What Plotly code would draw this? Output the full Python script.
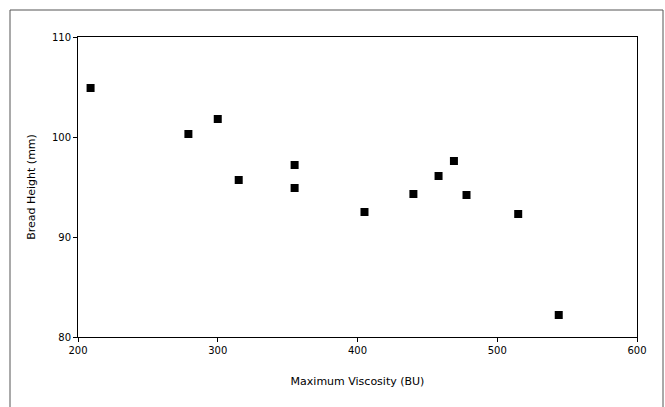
import plotly.graph_objects as go

viscosity = [209, 279, 300, 315, 355, 355, 405, 440, 458, 469, 478, 515, 544]
bread_height = [104.9, 100.3, 101.8, 95.7, 97.2, 94.9, 92.5, 94.3, 96.1, 97.6, 94.2, 92.3, 82.2]
x_ticks = [200, 300, 400, 500, 600]
y_ticks = [80, 90, 100, 110]

fig = go.Figure()
fig.add_trace(go.Scatter(
    x=viscosity, y=bread_height, mode="markers",
    marker=dict(symbol="square", size=8, color="black"),
    showlegend=False,
))

axis_common = dict(
    showgrid=False, zeroline=False, showline=True, mirror=True,
    linecolor="black", linewidth=1, ticks="outside", ticklen=4,
    tickcolor="black", tickfont=dict(family="DejaVu Sans", size=10, color="black"),
    title_font=dict(family="DejaVu Sans", size=11, color="black"),
)
fig.update_xaxes(range=[200, 600], tickvals=x_ticks, title_text="Maximum Viscosity (BU)",
                 title_standoff=22, **axis_common)
fig.update_yaxes(range=[80, 110], tickvals=y_ticks, title_text="Bread Height (mm)",
                 title_standoff=14, **axis_common)

L, R, T, B = 78, 28, 37, 70
W, H = 665, 407
pw, ph = W - L - R, H - T - B
fig.add_shape(type="rect", xref="paper", yref="paper",
              x0=(10 - L) / pw, x1=(663 - L) / pw,
              y0=(H - B - 420) / ph, y1=(H - B - 10) / ph,
              line=dict(color="#555555", width=1), fillcolor="rgba(0,0,0,0)", layer="below")

fig.update_layout(
    width=W, height=H, margin=dict(l=L, r=R, t=T, b=B),
    plot_bgcolor="white", paper_bgcolor="white",
)
fig.write_html("out.html")
